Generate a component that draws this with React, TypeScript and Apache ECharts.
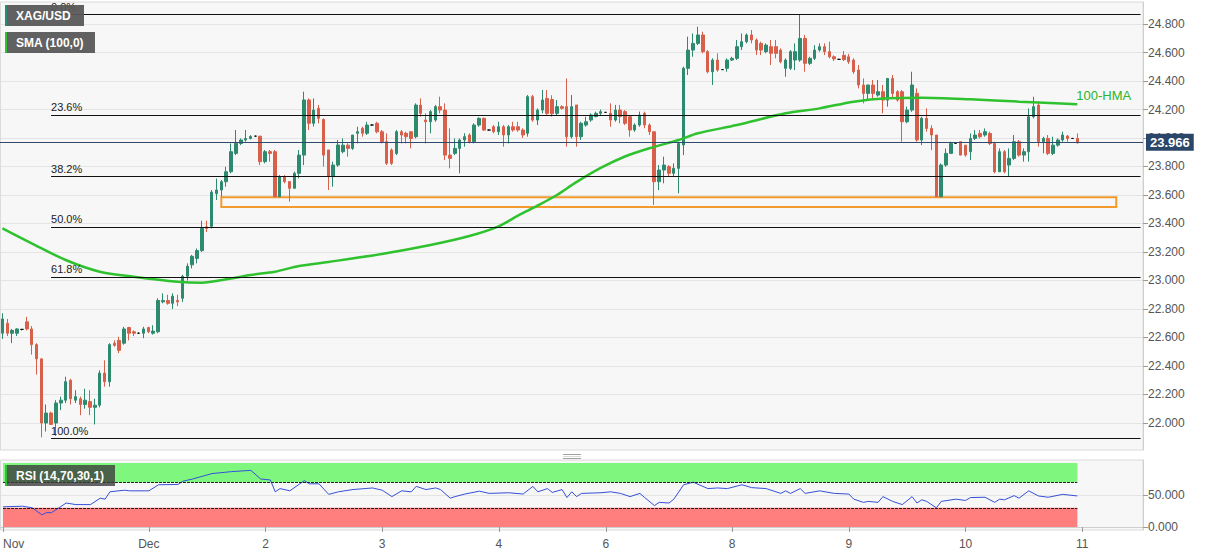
import React, { useEffect, useRef } from 'react';
import * as echarts from 'echarts';

// Hourly XAG/USD candles: [open, close, low, high]
const nov30 = [
  [22.63, 22.73, 22.59, 22.77], [22.70, 22.63, 22.61, 22.73], [22.63, 22.65, 22.56, 22.66], [22.63, 22.66, 22.61, 22.665],
  [22.657, 22.657, 22.65, 22.66], [22.71, 22.66, 22.65, 22.745], [22.66, 22.55, 22.48, 22.68], [22.55, 22.45, 22.34, 22.56],
  [22.45, 22.00, 21.90, 22.45], [22.00, 22.07, 21.94, 22.13], [22.07, 21.99, 21.99, 22.08], [22.00, 22.14, 21.91, 22.16],
  [22.14, 22.16, 22.09, 22.185], [22.16, 22.29, 22.14, 22.325], [22.30, 22.17, 22.13, 22.31], [22.16, 22.185, 22.14, 22.23],
  [22.17, 22.13, 22.055, 22.185], [22.13, 22.16, 22.10, 22.24], [22.15, 22.11, 22.055, 22.23], [22.11, 22.125, 21.99, 22.17],
  [22.125, 22.35, 22.11, 22.37], [22.35, 22.29, 22.255, 22.44], [22.29, 22.55, 22.255, 22.56], [22.56, 22.545, 22.535, 22.58],
  [22.58, 22.51, 22.49, 22.605], [22.56, 22.66, 22.55, 22.675], [22.67, 22.63, 22.58, 22.675], [22.64, 22.63, 22.61, 22.65],
  [22.63, 22.63, 22.625, 22.635], [22.63, 22.66, 22.595, 22.675],
];
const dec1 = [
  [22.67, 22.64, 22.63, 22.675], [22.63, 22.645, 22.62, 22.686], [22.64, 22.86, 22.63, 22.875], [22.85, 22.86, 22.84, 22.91],
  [22.86, 22.84, 22.83, 22.90], [22.84, 22.89, 22.80, 22.91], [22.86, 22.85, 22.82, 22.90], [22.875, 23.03, 22.85, 23.04],
  [23.03, 23.10, 23.00, 23.12], [23.11, 23.17, 23.085, 23.18], [23.155, 23.21, 23.12, 23.225], [23.21, 23.365, 23.20, 23.42],
  [23.377, 23.365, 23.34, 23.42], [23.38, 23.62, 23.365, 23.635], [23.61, 23.635, 23.565, 23.715], [23.635, 23.693, 23.588, 23.705],
  [23.693, 23.763, 23.658, 23.798], [23.763, 23.904, 23.752, 23.962], [23.892, 23.962, 23.88, 24.056], [23.962, 23.986, 23.95, 23.997],
  [23.986, 23.997, 23.974, 24.056], [23.997, 24.01, 23.99, 24.02], [24.013, 24.013, 24.01, 24.016], [24.013, 23.834, 23.81, 24.013],
];
const dec2 = [
  [23.834, 23.904, 23.822, 23.916], [23.904, 23.892, 23.834, 23.916], [23.904, 23.588, 23.585, 23.916], [23.588, 23.729, 23.585, 23.74],
  [23.729, 23.694, 23.682, 23.74], [23.694, 23.647, 23.553, 23.694], [23.647, 23.752, 23.647, 23.764], [23.752, 23.88, 23.717, 23.916],
  [23.88, 24.267, 23.81, 24.325], [24.267, 24.103, 24.056, 24.278], [24.103, 24.196, 24.08, 24.278], [24.208, 24.138, 24.103, 24.232],
  [24.13, 23.88, 23.8, 24.138], [23.916, 23.729, 23.635, 23.916], [23.729, 23.81, 23.658, 23.834], [23.81, 23.951, 23.798, 23.986],
  [23.904, 23.95, 23.892, 23.997], [23.95, 23.927, 23.869, 23.963], [23.927, 24.021, 23.916, 24.021], [24.033, 24.044, 23.962, 24.079],
  [24.068, 24.033, 24.009, 24.079], [24.033, 24.091, 24.021, 24.114], [24.091, 24.091, 24.088, 24.094], [24.103, 24.044, 24.033, 24.114],
];
const dec3 = [
  [24.044, 23.974, 23.962, 24.056], [23.974, 23.822, 23.81, 24.033], [23.916, 23.822, 23.81, 23.927], [23.892, 24.044, 23.88, 24.056],
  [24.044, 24.021, 23.962, 24.056], [24.033, 24.009, 23.962, 24.044], [24.044, 23.997, 23.927, 24.044], [24.009, 24.231, 23.997, 24.243],
  [24.231, 24.173, 24.15, 24.278], [24.126, 24.114, 23.962, 24.173], [24.114, 24.185, 24.033, 24.196], [24.126, 24.22, 24.114, 24.232],
  [24.22, 24.196, 24.173, 24.29], [24.196, 23.88, 23.846, 24.243], [23.88, 23.857, 23.787, 24.068], [23.892, 23.927, 23.88, 23.997],
  [23.927, 23.986, 23.752, 23.997], [23.986, 24.009, 23.939, 24.033], [24.021, 23.974, 23.962, 24.033], [23.974, 24.091, 23.962, 24.103],
  [24.091, 24.138, 24.079, 24.145], [24.138, 24.056, 24.05, 24.143], [24.056, 24.056, 24.053, 24.059], [24.079, 24.044, 24.033, 24.091],
];
const dec4 = [
  [24.044, 24.079, 24.021, 24.114], [24.079, 24.021, 23.939, 24.091], [24.021, 24.079, 23.962, 24.091], [24.079, 24.056, 24.044, 24.114],
  [24.079, 24.056, 24.044, 24.114], [24.056, 24.021, 24.0, 24.068], [24.033, 24.29, 24.009, 24.302], [24.29, 24.126, 24.114, 24.302],
  [24.126, 24.196, 24.091, 24.208], [24.196, 24.267, 24.173, 24.337], [24.278, 24.173, 24.161, 24.337], [24.27, 24.17, 24.15, 24.30],
  [24.173, 24.22, 24.161, 24.267], [24.22, 24.208, 24.2, 24.23], [24.22, 24.009, 23.939, 24.418], [24.009, 24.22, 23.997, 24.302],
  [24.232, 24.009, 23.939, 24.232], [24.009, 24.103, 23.986, 24.114], [24.091, 24.114, 24.079, 24.15], [24.126, 24.161, 24.114, 24.173],
  [24.15, 24.173, 24.145, 24.185], [24.173, 24.185, 24.161, 24.2],
];
const dec7 = [
  [24.18, 24.18, 24.177, 24.183], [24.173, 24.126, 24.079, 24.243], [24.126, 24.196, 24.114, 24.232], [24.196, 24.15, 24.103, 24.232],
  [24.185, 24.103, 24.091, 24.196], [24.15, 24.056, 24.009, 24.154], [24.056, 24.091, 24.044, 24.103], [24.091, 24.161, 24.079, 24.185],
  [24.173, 24.091, 24.068, 24.185], [24.091, 24.044, 24.021, 24.103], [24.044, 23.693, 23.53, 24.044], [23.693, 23.775, 23.635, 23.81],
  [23.775, 23.81, 23.682, 23.869], [23.799, 23.752, 23.729, 23.81], [23.752, 23.787, 23.729, 23.822], [23.787, 23.962, 23.612, 23.974],
  [23.951, 24.489, 23.88, 24.501], [24.489, 24.617, 24.442, 24.711], [24.617, 24.664, 24.57, 24.734], [24.664, 24.723, 24.652, 24.781],
  [24.723, 24.606, 24.594, 24.746], [24.606, 24.465, 24.454, 24.617], [24.465, 24.547, 24.372, 24.559], [24.547, 24.477, 24.465, 24.594],
  [24.48, 24.48, 24.477, 24.483], [24.489, 24.547, 24.465, 24.559],
];
const dec8 = [
  [24.547, 24.559, 24.54, 24.57], [24.559, 24.641, 24.547, 24.688], [24.641, 24.676, 24.617, 24.734], [24.676, 24.723, 24.664, 24.734],
  [24.723, 24.688, 24.664, 24.758], [24.688, 24.617, 24.582, 24.699], [24.664, 24.617, 24.582, 24.676], [24.606, 24.652, 24.594, 24.664],
  [24.641, 24.594, 24.512, 24.688], [24.641, 24.594, 24.559, 24.688], [24.617, 24.535, 24.524, 24.629], [24.489, 24.547, 24.43, 24.559],
  [24.489, 24.606, 24.477, 24.617], [24.547, 24.606, 24.477, 24.664], [24.547, 24.699, 24.535, 24.865], [24.699, 24.524, 24.465, 24.723],
  [24.524, 24.559, 24.512, 24.57], [24.559, 24.617, 24.547, 24.652], [24.617, 24.641, 24.606, 24.664], [24.641, 24.606, 24.582, 24.664],
  [24.606, 24.57, 24.559, 24.676], [24.57, 24.555, 24.54, 24.58], [24.552, 24.552, 24.549, 24.555], [24.58, 24.55, 24.54, 24.61],
];
const dec9 = [
  [24.57, 24.535, 24.52, 24.59], [24.547, 24.465, 24.45, 24.56], [24.477, 24.372, 24.348, 24.512], [24.372, 24.313, 24.243, 24.418],
  [24.313, 24.372, 24.266, 24.372], [24.372, 24.313, 24.266, 24.407], [24.301, 24.325, 24.29, 24.407], [24.325, 24.266, 24.173, 24.372],
  [24.266, 24.418, 24.22, 24.418], [24.418, 24.313, 24.278, 24.442], [24.325, 24.266, 24.255, 24.336], [24.325, 24.114, 23.974, 24.336],
  [24.114, 24.196, 24.103, 24.22], [24.196, 24.372, 24.184, 24.465], [24.313, 23.986, 23.974, 24.348], [23.986, 24.138, 23.95, 24.15],
  [24.138, 24.067, 24.044, 24.208], [24.067, 24.021, 23.915, 24.09], [24.021, 23.588, 23.585, 24.021], [23.588, 23.81, 23.585, 23.822],
  [23.81, 23.892, 23.798, 23.927], [23.892, 23.962, 23.892, 23.974], [23.962, 23.962, 23.959, 23.965], [23.974, 23.88, 23.88, 23.974],
];
const dec10 = [
  [23.95, 23.88, 23.869, 23.95], [23.904, 23.997, 23.845, 24.032], [23.997, 24.021, 23.986, 24.056], [24.032, 24.009, 23.997, 24.056],
  [24.021, 24.044, 24.009, 24.067], [24.032, 23.962, 23.95, 24.044], [23.962, 23.763, 23.752, 23.974], [23.763, 23.904, 23.763, 23.927],
  [23.904, 23.763, 23.752, 23.915], [23.81, 23.857, 23.728, 23.927], [23.857, 23.974, 23.845, 24.021], [23.974, 23.88, 23.869, 23.986],
  [23.88, 23.904, 23.834, 23.927], [23.904, 24.149, 23.834, 24.208], [24.149, 24.22, 24.138, 24.29], [24.231, 23.974, 23.939, 24.255],
  [23.974, 23.997, 23.892, 24.009], [23.997, 23.892, 23.88, 24.021], [23.892, 23.95, 23.88, 24.009], [23.95, 23.986, 23.939, 23.997],
  [23.986, 24.021, 23.974, 24.044], [24.014, 23.997, 23.974, 24.021], [23.997, 23.997, 23.994, 24.0], [23.997, 23.966, 23.962, 24.032],
];

const dayLabels = ['Nov', 'Dec', '2', '3', '4', '6', '8', '9', '10'];
const endLabel = '11';

// 100-period moving average, read at selected candles: [candle index, value]
const smaPoints = [
  [0, 23.366], [6, 23.261], [13, 23.144], [20, 23.062], [27, 23.027], [36, 22.992], [41, 22.985], [46, 23.008],
  [51, 23.039], [56, 23.062], [61, 23.102], [67, 23.13], [78, 23.186], [88, 23.249], [96, 23.312], [102, 23.38],
  [106, 23.455], [110, 23.525], [114, 23.6], [118, 23.69], [123, 23.79], [128, 23.87], [133, 23.928], [139, 23.986],
  [143, 24.033], [151, 24.091], [161, 24.173], [168, 24.208], [175, 24.255], [182, 24.279], [189, 24.283], [199, 24.272],
  [209, 24.255], [221, 24.236],
];

// RSI(14) read at selected candles: [candle index, value]
const rsiPoints = [
  [0, 31.5], [4, 32.5], [6, 30], [8, 19], [9, 22.5], [10, 22.5], [13, 37.5], [15, 35], [18, 35], [20, 45], [21, 43.5],
  [22, 55], [25, 57.5], [26, 56.5], [30, 56.5], [32, 66], [36, 66.5], [37, 71.5], [39, 75], [43, 83.5], [47, 86.5],
  [51, 88.5], [53, 75], [55, 73.5], [56, 55], [57, 60], [59, 56.5], [62, 72.5], [63, 67.5], [65, 67.5], [67, 51],
  [69, 55], [72, 58.5], [76, 61], [78, 57.5], [80, 47.5], [82, 56.5], [84, 55], [85, 63.5], [87, 58.5], [89, 61],
  [90, 58.5], [92, 45], [93, 47.5], [95, 51.5], [98, 56], [100, 52.5], [104, 53.5], [107, 51.5], [109, 63.5], [110, 55],
  [112, 60], [113, 54], [115, 58.5], [116, 46], [117, 55], [118, 47.5], [119, 52.5], [123, 53.5], [125, 55], [127, 52.5],
  [129, 47.5], [131, 52.5], [132, 46], [134, 33.5], [135, 38.5], [137, 37.5], [138, 43.5], [140, 66], [142, 70], [145, 60],
  [147, 61], [149, 60], [152, 66], [154, 61.5], [157, 60], [160, 52.5], [161, 56.5], [162, 52.5], [164, 60], [165, 52.5],
  [168, 56.5], [171, 52.5], [174, 51.5], [175, 43.5], [177, 38.5], [178, 40], [180, 38.5], [181, 47.5], [183, 40], [185, 35],
  [187, 47.5], [188, 37.5], [189, 42.5], [190, 40], [192, 30], [193, 40], [196, 43.5], [198, 41.5], [199, 46], [202, 46.5],
  [204, 38.5], [205, 43.5], [206, 42.5], [208, 49], [209, 45], [211, 56.5], [213, 48.5], [215, 46.5], [218, 51], [221, 48.5],
];

const fibLevels = [24.865, 24.163, 23.729, 23.377, 23.025, 21.89];
const fibLabels = ['0.0%', '23.6%', '38.2%', '50.0%', '61.8%', '100.0%'];
const supportZone = [23.585, 23.515];
const lastPrice = 23.966;
const priceTicks = [22.0, 22.2, 22.4, 22.6, 22.8, 23.0, 23.2, 23.4, 23.6, 23.8, 24.0, 24.2, 24.4, 24.6, 24.8];
const rsiTicks = [0, 50];
const rsiBands = [70, 100, 0, 30];

const FONT = '"Liberation Sans", Arial, sans-serif';
const GREEN = '#2e8a6e';
const RED = '#d8604b';

export default function App() {
  const ref = useRef<HTMLDivElement>(null);
  useEffect(() => {
    if (!ref.current) return;
    const chart = echarts.init(ref.current, null, { renderer: 'svg' });
    const days = [nov30, dec1, dec2, dec3, dec4, dec7, dec8, dec9, dec10];
    const candles = days.flat();
    const categories: string[] = [];
    days.forEach((d, k) => d.forEach((_, j) => categories.push(j === 0 ? dayLabels[k] : '')));
    categories.push(endLabel);
    for (let j = 1; j < 13; j++) categories.push('');
    const lastIdx = categories.length - 1;
    const lastCandle = candles.length - 1;
    const hasLabel = (i: number) => categories[i] !== '';
    const isMonth = (i: number) => categories[i] === 'Dec';

    const fibLines = fibLevels.map((v, k) => [
      { coord: [10, v], name: fibLabels[k] },
      { coord: [lastIdx, v] },
    ]);

    const option: any = {
      animation: false,
      backgroundColor: '#ffffff',
      textStyle: { fontFamily: FONT },
      grid: [
        { left: 0, top: 2, width: 1143, height: 448, show: true, backgroundColor: '#f7f7f7', borderColor: '#dadada', borderWidth: 1 },
        { left: 0, top: 460, width: 1143, height: 70, show: true, backgroundColor: '#f7f7f7', borderColor: '#dadada', borderWidth: 1 },
      ],
      xAxis: [
        {
          type: 'category', gridIndex: 0, data: categories, boundaryGap: true,
          axisLine: { show: false }, axisTick: { show: false }, axisLabel: { show: false },
          splitLine: { show: true, interval: (i: number) => isMonth(i), lineStyle: { color: '#dcdcdc' } },
        },
        {
          type: 'category', gridIndex: 1, data: categories, boundaryGap: true,
          axisLine: { show: true, lineStyle: { color: '#cfcfcf' } },
          axisTick: { show: true, interval: (i: number) => hasLabel(i), alignWithLabel: true, length: 5, lineStyle: { color: '#999' } },
          axisLabel: { show: true, interval: 0, color: '#555', fontSize: 12, margin: 8, fontFamily: FONT, alignMinLabel: 'left' },
          splitLine: { show: true, interval: (i: number) => isMonth(i), lineStyle: { color: '#dcdcdc' } },
        },
      ],
      yAxis: [
        {
          type: 'value', gridIndex: 0, position: 'right', min: 21.8105, max: 24.9544, scale: true,
          axisLine: { show: true, lineStyle: { color: '#cfcfcf' } },
          axisTick: { show: true, customValues: priceTicks, length: 5, lineStyle: { color: '#999' } },
          axisLabel: { customValues: priceTicks, formatter: (v: number) => v.toFixed(3), color: '#555', fontSize: 12, margin: 5, fontFamily: FONT },
          splitLine: { show: true, lineStyle: { color: '#e4e4e4' } },
        },
        {
          type: 'value', gridIndex: 1, position: 'right', min: -4.6875, max: 104.6875,
          axisLine: { show: true, lineStyle: { color: '#cfcfcf' } },
          axisTick: { show: true, customValues: rsiTicks, length: 5, lineStyle: { color: '#999' } },
          axisLabel: { customValues: rsiTicks, formatter: (v: number) => v.toFixed(3), color: '#555', fontSize: 12, margin: 5, fontFamily: FONT },
          splitLine: { show: true, lineStyle: { color: '#e4e4e4' } },
        },
      ],
      series: [
        {
          type: 'candlestick', xAxisIndex: 0, yAxisIndex: 0, data: candles, barWidth: 3,
          itemStyle: { color: GREEN, color0: RED, borderColor: GREEN, borderColor0: RED, borderColorDoji: '#111', borderWidth: 1 },
          markArea: {
            silent: true,
            itemStyle: { color: 'rgba(0,0,0,0)', borderColor: '#f29a2e', borderWidth: 2 },
            data: [[{ coord: [45, supportZone[0]] }, { coord: [229, supportZone[1]] }]],
          },
          markLine: {
            silent: true, symbol: ['none', 'none'],
            lineStyle: { color: '#111', width: 1, type: 'solid' },
            label: { show: true, position: 'insideStartTop', formatter: '{b}', color: '#222', fontSize: 11, distance: [0, 2], fontFamily: FONT },
            data: [
              ...fibLines,
              {
                yAxis: lastPrice, name: 'last',
                lineStyle: { color: '#2f4a6c', width: 1, type: 'solid' },
                label: {
                  show: true, position: 'end', formatter: lastPrice.toFixed(3), backgroundColor: '#2b4669', color: '#fff',
                  fontWeight: 'bold', fontSize: 13, padding: [2, 4, 2, 4], distance: 3, fontFamily: FONT,
                },
              },
            ],
          },
        },
        {
          type: 'line', xAxisIndex: 0, yAxisIndex: 0, data: smaPoints, smooth: 0.3, showSymbol: false, symbol: 'none',
          lineStyle: { color: '#2fc22f', width: 2.5 },
          endLabel: { show: true, formatter: '100-HMA', color: '#2bb52b', fontSize: 13, offset: [-9, -9], fontFamily: FONT },
          z: 3,
        },
        {
          type: 'line', xAxisIndex: 1, yAxisIndex: 1, data: rsiPoints, showSymbol: false, symbol: 'none',
          lineStyle: { color: '#3550d8', width: 1 },
          markArea: {
            silent: true,
            data: [
              [{ coord: [0, rsiBands[1]], itemStyle: { color: '#7ff77f', opacity: 1 } }, { coord: [lastCandle, rsiBands[0]] }],
              [{ coord: [0, rsiBands[3]], itemStyle: { color: '#ff7f7f', opacity: 1 } }, { coord: [lastCandle, rsiBands[2]] }],
            ],
          },
          markLine: {
            silent: true, symbol: ['none', 'none'], label: { show: false },
            lineStyle: { color: '#222', width: 1, type: [3, 1] },
            data: [
              [{ coord: [0, rsiBands[0]] }, { coord: [lastCandle, rsiBands[0]] }],
              [{ coord: [0, rsiBands[3]] }, { coord: [lastCandle, rsiBands[3]] }],
            ],
          },
        },
      ],
      graphic: [
        { type: 'rect', x: 5, y: 5, z: 100, shape: { x: 0, y: 0, width: 79, height: 21 }, style: { fill: 'rgba(88,88,88,0.95)' } },
        { type: 'rect', x: 5, y: 5, z: 101, shape: { x: 0, y: 0, width: 2, height: 21 }, style: { fill: '#2a8a72' } },
        { type: 'text', x: 16, y: 15.5, z: 102, style: { text: 'XAG/USD', fill: '#fff', font: `bold 12px ${FONT}`, verticalAlign: 'middle' } },
        { type: 'rect', x: 5, y: 32, z: 100, shape: { x: 0, y: 0, width: 90, height: 21 }, style: { fill: 'rgba(88,88,88,0.95)' } },
        { type: 'rect', x: 5, y: 32, z: 101, shape: { x: 0, y: 0, width: 2, height: 21 }, style: { fill: '#2fc22f' } },
        { type: 'text', x: 16, y: 42.5, z: 102, style: { text: 'SMA (100,0)', fill: '#fff', font: `bold 12px ${FONT}`, verticalAlign: 'middle' } },
        { type: 'rect', x: 5, y: 465, z: 100, shape: { x: 0, y: 0, width: 110, height: 21 }, style: { fill: 'rgba(60,60,60,0.8)' } },
        { type: 'rect', x: 5, y: 465, z: 101, shape: { x: 0, y: 0, width: 2, height: 21 }, style: { fill: '#2fc22f' } },
        { type: 'text', x: 16, y: 475.5, z: 102, style: { text: 'RSI (14,70,30,1)', fill: '#fff', font: `bold 12px ${FONT}`, verticalAlign: 'middle' } },
        { type: 'line', z: 100, shape: { x1: 563, y1: 454.5, x2: 581, y2: 454.5 }, style: { stroke: '#8a8a8a', lineWidth: 0.8 } },
        { type: 'line', z: 100, shape: { x1: 563, y1: 456.5, x2: 581, y2: 456.5 }, style: { stroke: '#d0d0d0', lineWidth: 0.8 } },
        { type: 'line', z: 100, shape: { x1: 563, y1: 458.5, x2: 581, y2: 458.5 }, style: { stroke: '#8a8a8a', lineWidth: 0.8 } },
      ],
    };
    chart.setOption(option);
    return () => chart.dispose();
  }, []);
  return <div ref={ref} style={{ position: 'absolute', left: 0, top: 0, width: 1207, height: 555 }} />;
}
